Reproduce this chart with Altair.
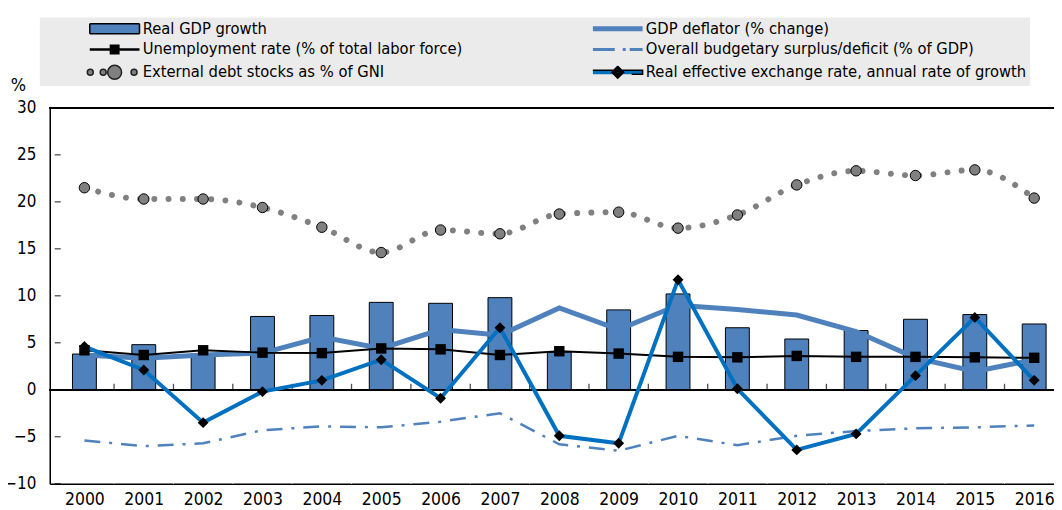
import altair as alt
import pandas as pd

# ---------------- data ----------------
years = list(range(2000, 2017))
gdp_growth = [3.8, 4.8, 3.8, 7.8, 7.9, 9.3, 9.2, 9.8, 4.0, 8.5, 10.2, 6.6, 5.4, 6.3, 7.5, 8.0, 7.0]
gdp_deflator = [3.7, 3.35, 3.7, 3.9, 5.6, 4.4, 6.4, 5.8, 8.7, 6.4, 9.0, 8.55, 7.95, 6.2, 3.4, 1.95, 3.2]
unemployment = [4.2, 3.7, 4.2, 3.95, 3.9, 4.4, 4.3, 3.7, 4.1, 3.85, 3.5, 3.45, 3.6, 3.5, 3.5, 3.45, 3.4]
budget_balance = [-5.4, -6.0, -5.7, -4.3, -3.9, -4.0, -3.4, -2.5, -5.8, -6.5, -4.9, -5.9, -4.9, -4.4, -4.1, -4.0, -3.8]
external_debt = [21.5, 20.3, 20.3, 19.4, 17.3, 14.6, 17.0, 16.6, 18.7, 18.9, 17.2, 18.6, 21.8, 23.3, 22.8, 23.4, 20.4]
reer_growth = [4.6, 2.1, -3.5, -0.2, 1.0, 3.2, -0.9, 6.6, -4.9, -5.7, 11.7, 0.1, -6.4, -4.7, 1.5, 7.7, 1.0]

series_names = [
    "Real GDP growth",
    "GDP deflator (% change)",
    "Unemployment rate (% of total labor force)",
    "Overall budgetary surplus/deficit (% of GDP)",
    "External debt stocks as % of GNI",
    "Real effective exchange rate, annual rate of growth",
]
y_ticks = [-10, -5, 0, 5, 10, 15, 20, 25, 30]

# ---------------- styling ----------------
FONT = "Liberation Sans Narrow, Arial Narrow, DejaVu Sans Condensed, Liberation Sans, Arial, sans-serif"
C_BAR = "#4f81bd"
C_REER = "#0070c0"
C_DEBT = "#808080"
BG = "#f0ffff"

df = pd.DataFrame({
    "year": years,
    "gdp": gdp_growth,
    "defl": gdp_deflator,
    "unemp": unemployment,
    "budget": budget_balance,
    "debt": external_debt,
    "reer": reer_growth,
})
bounds_df = pd.DataFrame({"b": [y + 0.5 for y in years[:-1]]})
yt_df = pd.DataFrame({"v": y_ticks})

x_scale = alt.Scale(domain=[years[0] - 0.5, years[-1] + 0.25], nice=False, zero=False)
y_scale = alt.Scale(domain=[y_ticks[0], y_ticks[-1]], nice=False)

X = alt.X("year:Q", scale=x_scale,
          axis=alt.Axis(values=years, format="d", title=None, grid=False, ticks=False,
                        domainColor="black", domainWidth=1.5, labelFont=FONT, labelFontSize=17.5,
                        labelColor="black", labelPadding=7, labelFlush=False, labelOverlap=False))
Y_AXIS = alt.Axis(values=y_ticks, title="%", titleAngle=0, titleX=-32, titleY=-22,
                  titleAlign="center", titleBaseline="middle", titleFont=FONT,
                  titleFontSize=18, titleFontWeight="normal", titleColor="black",
                  grid=True, gridColor="white", gridWidth=1, ticks=False,
                  domainColor="black", domainWidth=1.5, labelFont=FONT, labelFontSize=17,
                  labelColor="black", labelPadding=14, labelFlush=False)

base = alt.Chart(df)

grid_v = alt.Chart(bounds_df).mark_rule(color="white", strokeWidth=1).encode(
    x=alt.X("b:Q", scale=x_scale))

bars = base.mark_bar(size=24, color=C_BAR, stroke="black", strokeWidth=1).encode(
    x=X, y=alt.Y("gdp:Q", scale=y_scale, axis=Y_AXIS))

zero = alt.Chart(df).mark_rule(color="black", strokeWidth=1.5).encode(y=alt.datum(0))
top_border = alt.Chart(df).mark_rule(color="black", strokeWidth=1.5).encode(y=alt.datum(y_ticks[-1]))

x_ticks = alt.Chart(bounds_df).mark_tick(orient="vertical", size=6, thickness=1.3, color="black").encode(
    x=alt.X("b:Q", scale=x_scale), y=alt.datum(0), yOffset=alt.value(-3))
y_tickmarks = alt.Chart(yt_df).mark_tick(orient="horizontal", size=6, thickness=1.3, color="black").encode(
    x=alt.datum(years[0] - 0.5), y=alt.Y("v:Q", scale=y_scale), xOffset=alt.value(3))

defl = base.mark_line(color=C_BAR, strokeWidth=5).encode(x=alt.X("year:Q", scale=x_scale), y=alt.Y("defl:Q", scale=y_scale))
budget = base.mark_line(color=C_BAR, strokeWidth=2.5, strokeDash=[16, 9, 3, 9]).encode(
    x=alt.X("year:Q", scale=x_scale), y=alt.Y("budget:Q", scale=y_scale))
debt_line = base.mark_line(color=C_DEBT, strokeWidth=6, strokeDash=[0.01, 14.3], strokeCap="round",
                           interpolate="monotone").encode(
    x=alt.X("year:Q", scale=x_scale), y=alt.Y("debt:Q", scale=y_scale))
debt_pts = base.mark_point(shape="circle", filled=True, fill=C_DEBT, stroke="black", strokeWidth=1,
                           size=110, opacity=1).encode(
    x=alt.X("year:Q", scale=x_scale), y=alt.Y("debt:Q", scale=y_scale))
unemp_line = base.mark_line(color="black", strokeWidth=2).encode(
    x=alt.X("year:Q", scale=x_scale), y=alt.Y("unemp:Q", scale=y_scale))
reer_line = base.mark_line(color=C_REER, strokeWidth=4).encode(
    x=alt.X("year:Q", scale=x_scale), y=alt.Y("reer:Q", scale=y_scale))
unemp_pts = base.mark_point(shape="square", filled=True, color="black", size=110, opacity=1).encode(
    x=alt.X("year:Q", scale=x_scale), y=alt.Y("unemp:Q", scale=y_scale))
reer_pts = base.mark_point(shape="diamond", filled=True, color="black", size=120, opacity=1).encode(
    x=alt.X("year:Q", scale=x_scale), y=alt.Y("reer:Q", scale=y_scale))

# ---------------- legend symbols (custom paths, 5px per unit) ----------------
def rect(x0, x1, y0, y1):
    return f"M{x0},{y0}H{x1}V{y1}H{x0}Z"

def circle(cx, r):
    return f"M{cx - r},0A{r},{r},0,1,0,{cx + r},0A{r},{r},0,1,0,{cx - r},0Z"

def diamond(h):
    return f"M0,{-h}L{h},0L0,{h}L{-h},0Z"

sym_paths = [
    rect(-5, 5, -1, 1),
    rect(-5, 5, -0.5, 0.5),
    rect(-1, 1, -1, 1) + rect(-5, 5, -0.25, 0.25),
    rect(-5, -0.6, -0.3, 0.3) + rect(1, 1.6, -0.3, 0.3) + rect(2.4, 5, -0.3, 0.3),
    circle(0, 1.4) + circle(-4.9, 0.6) + circle(-2.3, 0.6) + circle(3.9, 0.6),
    diamond(1.2) + diamond(0.9) + diamond(0.6) + diamond(0.3) + rect(-5, 5, -0.4, 0.4),
]
sym_fill = [C_BAR, C_BAR, "black", C_BAR, C_DEBT, C_REER]
sym_stroke = ["black", "transparent", "transparent", "transparent", "#222222", "black"]
sym_dash = [[1, 0], [1, 0], [1, 0], [1, 0], [44, 10000], [65, 10000]]

leg = alt.Legend(
    orient="none", legendX=-10, legendY=-91, columns=2, direction="horizontal", title=None,
    fillColor="#ebebeb", padding=3, rowPadding=4, columnPadding=83,
    labelFont=FONT, labelFontSize=16.5, labelColor="black", labelLimit=600,
    symbolOffset=64, labelOffset=20, symbolSize=100, symbolStrokeWidth=1.5,
    symbolOpacity=1,
)
legend_df = pd.DataFrame({"series": series_names, "lx": [None] * 6, "ly": [None] * 6})
legend_layer = alt.Chart(legend_df).mark_point(filled=True, opacity=1).encode(
    x=alt.X("lx:Q", scale=x_scale),
    y=alt.Y("ly:Q", scale=y_scale),
    fill=alt.Fill("series:N", scale=alt.Scale(domain=series_names, range=sym_fill), legend=leg),
    stroke=alt.Stroke("series:N", scale=alt.Scale(domain=series_names, range=sym_stroke), legend=leg),
    shape=alt.Shape("series:N", scale=alt.Scale(domain=series_names, range=sym_paths), legend=leg),
    strokeDash=alt.StrokeDash("series:N", scale=alt.Scale(domain=series_names, range=sym_dash), legend=leg),
)

chart = alt.layer(
    grid_v, bars, zero, top_border, x_ticks, y_tickmarks, defl, budget, debt_line, debt_pts,
    unemp_line, reer_line, unemp_pts, reer_pts, legend_layer,
).properties(
    width=1010, height=378,
    autosize=alt.AutoSizeParams(type="none"),
    padding={"left": 42, "top": 99, "right": 0, "bottom": 25},
).configure_view(
    fill=BG, stroke=None,
).configure(background="white")

chart.save("out.html", embed_options={"renderer": "svg", "actions": False})
